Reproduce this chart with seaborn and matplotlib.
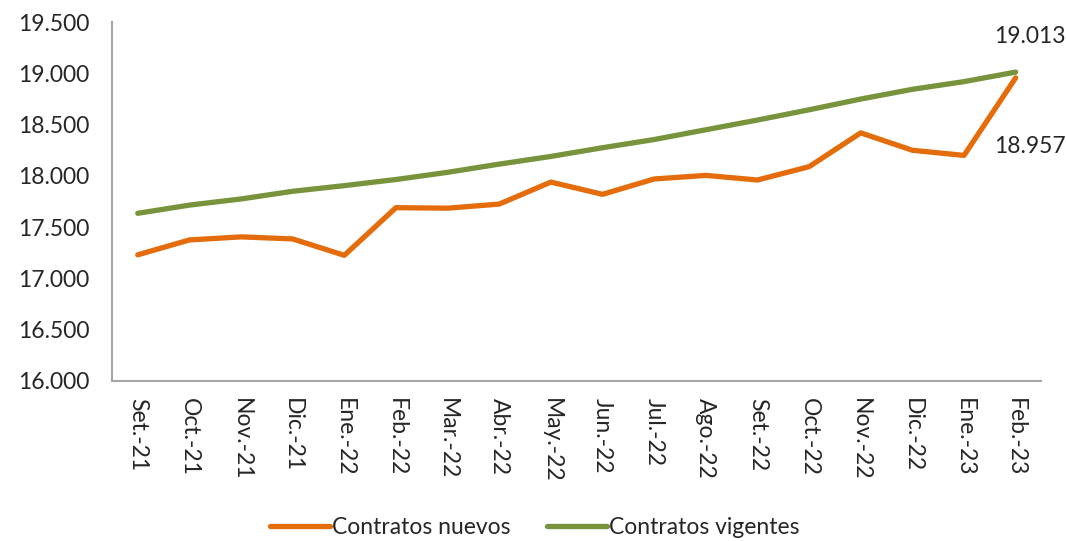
import matplotlib
matplotlib.use("Agg")
import matplotlib.pyplot as plt
import numpy as np
import pandas as pd
import seaborn as sns
from matplotlib.ticker import FuncFormatter, MultipleLocator

meses = ["Set.-21", "Oct.-21", "Nov.-21", "Dic.-21", "Ene.-22", "Feb.-22",
         "Mar.-22", "Abr.-22", "May.-22", "Jun.-22", "Jul.-22", "Ago.-22",
         "Set.-22", "Oct.-22", "Nov.-22", "Dic.-22", "Ene.-23", "Feb.-23"]
contratos_nuevos = [17230, 17375, 17405, 17385, 17225, 17690, 17685, 17725, 17940,
                    17820, 17970, 18005, 17960, 18090, 18420, 18250, 18200, 18957]
contratos_vigentes = [17635, 17715, 17775, 17850, 17905, 17965, 18035, 18115, 18190,
                      18275, 18355, 18450, 18545, 18645, 18750, 18845, 18920, 19013]
series = ["Contratos nuevos", "Contratos vigentes"]
colores = {"Contratos nuevos": "#E46C0A", "Contratos vigentes": "#77933C"}

df = pd.DataFrame({
    "mes": meses * 2,
    "pos": list(range(len(meses))) * 2,
    "valor": contratos_nuevos + contratos_vigentes,
    "serie": [series[0]] * len(meses) + [series[1]] * len(meses),
})

sns.set_theme(style="white")
plt.rcParams["font.family"] = ["Lato", "DejaVu Sans"]

fig = plt.figure(figsize=(10.66, 5.41), dpi=100)
ax = fig.add_axes([0.105, 0.296, 0.872, 0.663])

sns.lineplot(data=df, x="pos", y="valor", hue="serie", palette=colores,
             linewidth=3.8, ax=ax, legend=True)

ax.set_xlim(-0.5, len(meses) - 0.5)
ax.set_ylim(16000, 19500)
ax.yaxis.set_major_locator(MultipleLocator(500))
ax.yaxis.set_major_formatter(FuncFormatter(lambda v, p: f"{v:,.0f}".replace(",", ".")))
ax.set_xticks(range(len(meses)))
ax.set_xticklabels(meses, rotation=270, fontsize=16.5)
ax.tick_params(axis="y", labelsize=16.5, length=0, pad=16)
ax.tick_params(axis="x", length=0, pad=12)
ax.set_xlabel("")
ax.set_ylabel("")

for s in ["top", "right"]:
    ax.spines[s].set_visible(False)
for s in ["left", "bottom"]:
    ax.spines[s].set_color("#A6A6A6")
    ax.spines[s].set_linewidth(1.5)

ult = len(meses) - 1
ax.annotate(f"{contratos_vigentes[-1]:,}".replace(",", "."), (ult, contratos_vigentes[-1]),
            xytext=(10, 18), textcoords="offset points", ha="center", va="bottom", fontsize=16.5)
ax.annotate(f"{contratos_nuevos[-1]:,}".replace(",", "."), (ult, contratos_nuevos[-1]),
            xytext=(10, -42), textcoords="offset points", ha="center", va="top", fontsize=16.5)

ax.legend(loc="center", bbox_to_anchor=(0.455, -0.41), ncol=2, frameon=False,
          fontsize=16.5, handlelength=2.6, handletextpad=0.1, columnspacing=1.6)

fig.savefig("out.png", dpi=100)
